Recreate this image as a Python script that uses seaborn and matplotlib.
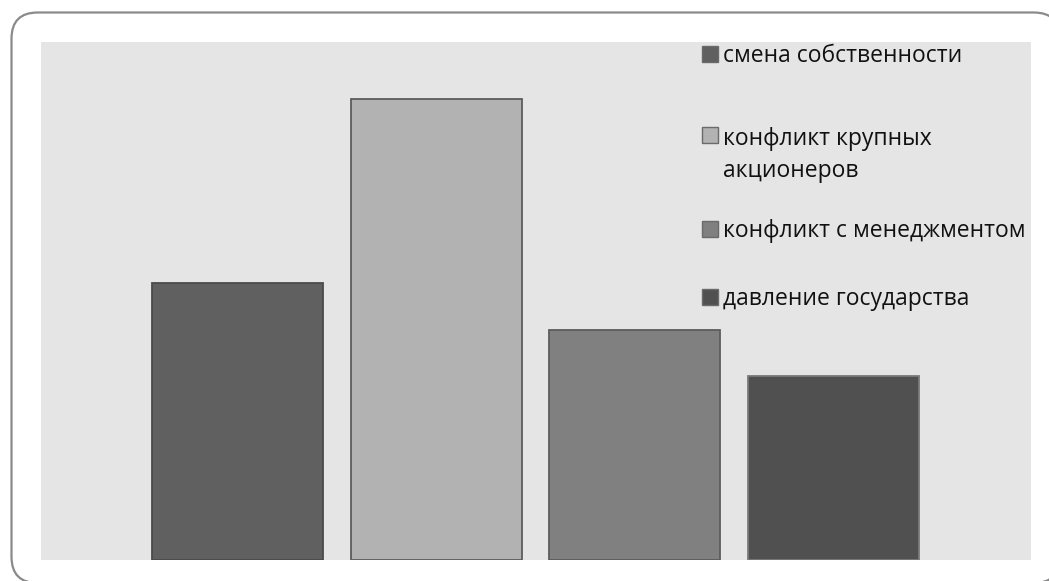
import matplotlib
matplotlib.use("Agg")
import matplotlib.pyplot as plt
from matplotlib.patches import FancyBboxPatch, Rectangle
import seaborn as sns
import pandas as pd

series = ["смена собственности", "конфликт крупных\nакционеров",
          "конфликт с менеджментом", "давление государства"]
values = [30, 50, 25, 20]
fill_colors = ["#606060", "#b2b2b2", "#808080", "#505050"]
edge_colors = ["#4a4a4a", "#5c5c5c", "#5c5c5c", "#7a7a7a"]

W, H = 1049, 581
sns.set_theme(style="white")
plt.rcParams["font.family"] = ["Open Sans", "DejaVu Sans"]

fig = plt.figure(figsize=(W / 100, H / 100), dpi=100)

# rounded frame around the chart
frame = FancyBboxPatch((11.5 / W, (H - 583) / H), (1060 - 11.5) / W, (583 - 12.5) / H,
                       boxstyle="round,pad=0,rounding_size=0.025",
                       transform=fig.transFigure, facecolor="white",
                       edgecolor="#8a8a8a", linewidth=1.6, mutation_aspect=W / H,
                       zorder=-5)
fig.patches.append(frame)

ax = fig.add_axes([41 / W, (H - 560) / H, 990 / W, 518 / H])
ax.set_zorder(1)
ax.set_facecolor("#e5e5e5")

df = pd.DataFrame({"series": series, "value": values})
sns.barplot(data=df, x="series", y="value", hue="series", palette=fill_colors,
            width=0.86, legend=False, ax=ax, saturation=1)
for p, ec in zip(ax.patches, edge_colors):
    p.set_edgecolor(ec)
    p.set_linewidth(1.3)

ax.set_xlim(-0.987, 3.992)
ax.set_ylim(0, 56.2)
ax.set_xticks([])
ax.set_yticks([])
ax.set_xlabel("")
ax.set_ylabel("")
for s in ax.spines.values():
    s.set_visible(False)

# legend drawn on the right of the plot area
leg_y = [56, 155, 231, 299]
marker_y = [54, 135, 229, 297]
for lab, col, yc, ym in zip(series, fill_colors, leg_y, marker_y):
    fig.add_artist(Rectangle((702 / W, (H - ym - 8) / H), 16 / W, 16 / H,
                             transform=fig.transFigure, facecolor=col,
                             edgecolor="#6a6a6a", linewidth=1.0, zorder=5))
    fig.text(723 / W, (H - yc) / H, lab, ha="left", va="center",
             fontsize=16.5, color="#111111", linespacing=1.45, zorder=5)

fig.savefig("out.png", dpi=100)
